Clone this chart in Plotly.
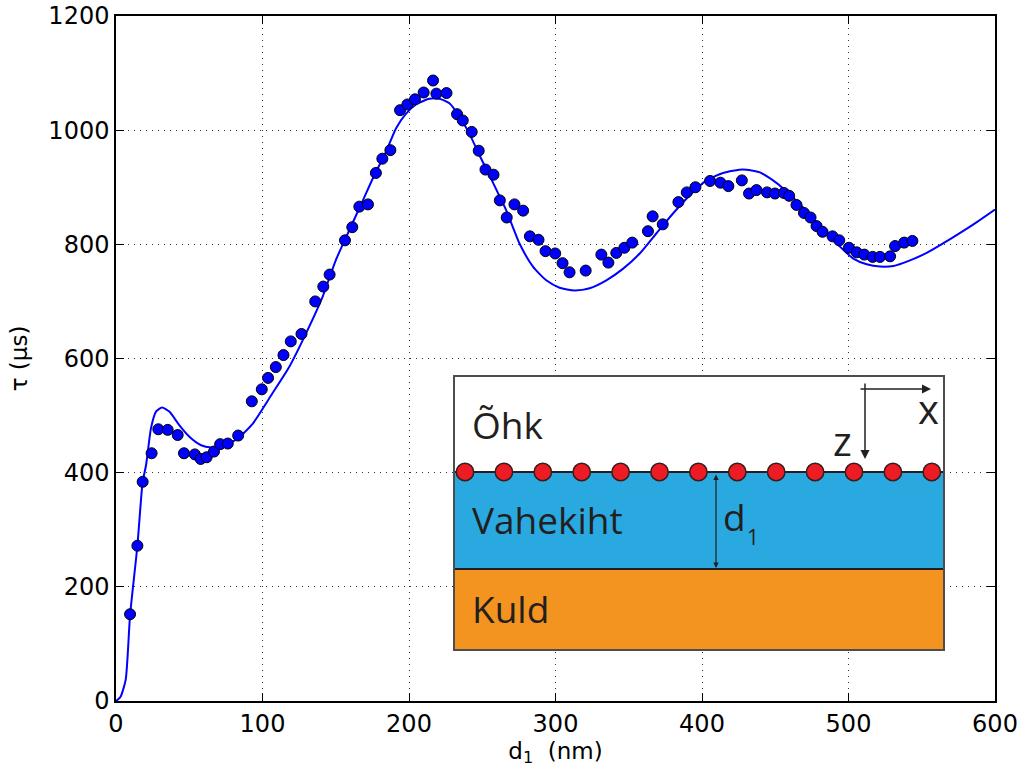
import plotly.graph_objects as go

# Measured lifetime vs. spacer thickness
d_meas = [9.6, 14.6, 18.2, 24.3, 28.9, 35.3, 42.1, 46.4, 53.8, 57.8, 61.9, 66.9, 71.1, 76.3, 83.4,
          92.7, 99.5, 103.8, 109.1, 114.3, 119.3, 126.6, 136.0, 141.5, 145.8, 156.3, 161.3, 166.1,
          172.0, 177.4, 181.8, 187.3, 193.9, 198.9, 204.1, 210.0, 216.4, 218.7, 225.6, 232.8, 236.7,
          242.8, 247.6, 252.2, 257.7, 262.0, 266.7, 272.0, 277.9, 282.5, 288.4, 293.2, 299.8, 304.8,
          309.6, 320.6, 331.3, 336.1, 341.5, 347.0, 352.4, 363.1, 366.3, 373.2, 383.9, 389.6, 395.5,
          405.5, 412.6, 418.0, 427.2, 432.1, 437.2, 444.4, 449.8, 455.9, 459.5, 464.5, 469.6, 474.1,
          478.2, 482.3, 489.1, 493.7, 500.3, 505.6, 510.8, 516.5, 521.5, 528.4, 531.8, 538.0, 543.6]
tau_meas = [152, 272, 384, 434, 476, 475, 466, 434, 432, 424, 427, 437, 450, 451, 465,
            525, 546, 566, 585, 606, 630, 643, 700, 726, 747, 807, 830, 866,
            870, 925, 950, 965, 1035, 1045, 1054, 1066, 1087, 1064, 1065, 1028, 1017,
            997, 964, 931, 922, 877, 847, 870, 859, 814, 808, 788, 784, 767,
            751, 754, 782, 768, 785, 794, 803, 823, 849, 835, 874, 891, 900,
            911, 908, 902, 912, 889, 895, 891, 889, 890, 885, 869, 855, 847,
            832, 822, 814, 807, 794, 786, 782, 778, 778, 779, 797, 803, 806]

# Model curve
d_model = [0, 3, 6.6, 9.6, 14.6, 18.2, 20.5, 23.9, 27.3, 31.4, 36.4, 43.3, 50.1, 58.1, 64.9,
           72.9, 83.1, 93.4, 106.8, 118.2, 129.7, 141, 150, 160, 168, 176.3, 184.3, 191.1, 198,
           204.8, 213.9, 220.7, 227.6, 234.4, 241.2, 248.1, 254.9, 261.8, 266.3, 275.5, 284.6,
           293.7, 302.8, 313, 323.3, 334.7, 346, 357.5, 368.8, 380.2, 391.7, 403, 414.4, 428,
           439.5, 448.5, 455.4, 470, 485, 494.2, 503.3, 512.4, 521.5, 530.6, 542, 553.4, 564.8,
           576.2, 587.6, 600]
tau_model = [0, 7, 37, 150, 272, 384, 413, 478, 507, 514, 507, 483, 463, 448, 444,
             446, 460, 486, 539, 585, 644, 708, 772, 829, 874, 921, 962, 1003, 1029,
             1045, 1055, 1055, 1047, 1024, 994, 956, 921, 884, 860, 801, 761,
             737, 724, 719, 723, 737, 757, 784, 819, 854, 886, 912, 925, 931,
             926, 912, 898, 862, 819, 796, 775, 765, 761, 762, 772, 785, 802,
             820, 839, 861]

x_ticks = [0, 100, 200, 300, 400, 500, 600]
y_ticks = [0, 200, 400, 600, 800, 1000, 1200]

W, H = 1023, 769
L, R, T, B = 116, 995, 16, 701


def px(x):
    return (x - L) / (R - L)


def py(y):
    return (B - y) / (B - T)


fig = go.Figure()
fig.add_trace(go.Scatter(x=d_model, y=tau_model, mode="lines",
                         line=dict(color="#0000ff", width=2, shape="spline", smoothing=0.6),
                         hoverinfo="skip", showlegend=False))
fig.add_trace(go.Scatter(x=d_meas, y=tau_meas, mode="markers",
                         marker=dict(color="#0000ff", size=11, line=dict(color="black", width=1)),
                         showlegend=False))

axis_common = dict(
    showline=True, linecolor="black", linewidth=1.5, mirror="allticks",
    ticks="inside", ticklen=8, tickwidth=1, tickcolor="black",
    showgrid=True, gridcolor="#333333", gridwidth=1, griddash="1px,5px",
    zeroline=False, automargin=False,
    tickfont=dict(family="DejaVu Sans", size=24, color="black"),
)

fig.update_xaxes(range=[0, 600], tickvals=x_ticks, ticktext=[str(v) for v in x_ticks],
                 title=dict(text="d<sub>1</sub>  (nm)", font=dict(family="DejaVu Sans", size=23, color="black"),
                            standoff=4),
                 **axis_common)
fig.update_yaxes(range=[0, 1200], tickvals=y_ticks, ticktext=[str(v) for v in y_ticks],
                 title=dict(text="τ (µs)", font=dict(family="DejaVu Sans", size=23, color="black"),
                            standoff=14),
                 **axis_common)

# Inset: layer schematic
shapes = []
ink = "#231f20"
box_l, box_r, box_t, box_b = 454, 944, 376, 650
y_iface, y_gold = 472, 569
shapes.append(dict(type="rect", xref="paper", yref="paper", layer="above",
                   x0=px(box_l), x1=px(box_r), y0=py(box_b), y1=py(box_t),
                   fillcolor="white", line=dict(width=0)))
shapes.append(dict(type="rect", xref="paper", yref="paper", layer="above",
                   x0=px(box_l), x1=px(box_r), y0=py(y_gold), y1=py(y_iface),
                   fillcolor="#29a9e0", line=dict(width=0)))
shapes.append(dict(type="rect", xref="paper", yref="paper", layer="above",
                   x0=px(box_l), x1=px(box_r), y0=py(box_b), y1=py(y_gold),
                   fillcolor="#f49420", line=dict(width=0)))
for yy in (y_iface, y_gold):
    shapes.append(dict(type="line", xref="paper", yref="paper", layer="above",
                       x0=px(box_l), x1=px(box_r), y0=py(yy), y1=py(yy),
                       line=dict(color=ink, width=2)))
shapes.append(dict(type="rect", xref="paper", yref="paper", layer="above",
                   x0=px(box_l), x1=px(box_r), y0=py(box_b), y1=py(box_t),
                   fillcolor="rgba(0,0,0,0)", line=dict(color="#4d4d4d", width=2)))
# emitters along the interface
r_dot = 8.7
for i in range(13):
    cx = 465 + i * 38.9
    shapes.append(dict(type="circle", xref="paper", yref="paper", layer="above",
                       x0=px(cx - r_dot), x1=px(cx + r_dot), y0=py(y_iface + r_dot), y1=py(y_iface - r_dot),
                       fillcolor="#ed1c24", line=dict(color="#3a1c1c", width=1.5)))

ann = []
txt_font = dict(family="Open Sans", size=37, color=ink)
for label, cy in (("Õhk", 424), ("Vahekiht", 519), ("Kuld", 608)):
    ann.append(dict(text=label, xref="paper", yref="paper", x=px(470), y=py(cy),
                    xanchor="left", yanchor="middle", showarrow=False, font=txt_font))
ann.append(dict(text="d", xref="paper", yref="paper", x=px(721), y=py(516),
                xanchor="left", yanchor="middle", showarrow=False, font=txt_font))
ann.append(dict(text="1", xref="paper", yref="paper", x=px(745), y=py(537),
                xanchor="left", yanchor="middle", showarrow=False,
                font=dict(family="Open Sans", size=21, color=ink)))
ann.append(dict(text="x", xref="paper", yref="paper", x=px(928), y=py(408),
                xanchor="center", yanchor="middle", showarrow=False,
                font=dict(family="Open Sans", size=40, color=ink)))
ann.append(dict(text="z", xref="paper", yref="paper", x=px(842), y=py(440),
                xanchor="center", yanchor="middle", showarrow=False,
                font=dict(family="Open Sans", size=40, color=ink)))
# axis arrows
ann.append(dict(text="", xref="paper", yref="paper", x=px(931), y=py(389),
                ax=859 - 931, ay=0, showarrow=True, arrowhead=2, arrowsize=1.2,
                arrowwidth=1.5, arrowcolor=ink))
ann.append(dict(text="", xref="paper", yref="paper", x=px(865), y=py(459),
                ax=0, ay=382 - 459, showarrow=True, arrowhead=2, arrowsize=1.2,
                arrowwidth=1.5, arrowcolor=ink))
# thickness marker
ann.append(dict(text="", xref="paper", yref="paper", x=px(716), y=py(568),
                ax=0, ay=473 - 568, showarrow=True, arrowhead=2, startarrowhead=2,
                arrowside="end+start", arrowsize=0.9, arrowwidth=1.2, arrowcolor=ink))

fig.update_layout(
    width=W, height=H,
    margin=dict(l=L, r=W - R, t=T, b=H - B),
    paper_bgcolor="white", plot_bgcolor="white",
    shapes=shapes, annotations=ann, showlegend=False,
)

fig.write_html("out.html")
